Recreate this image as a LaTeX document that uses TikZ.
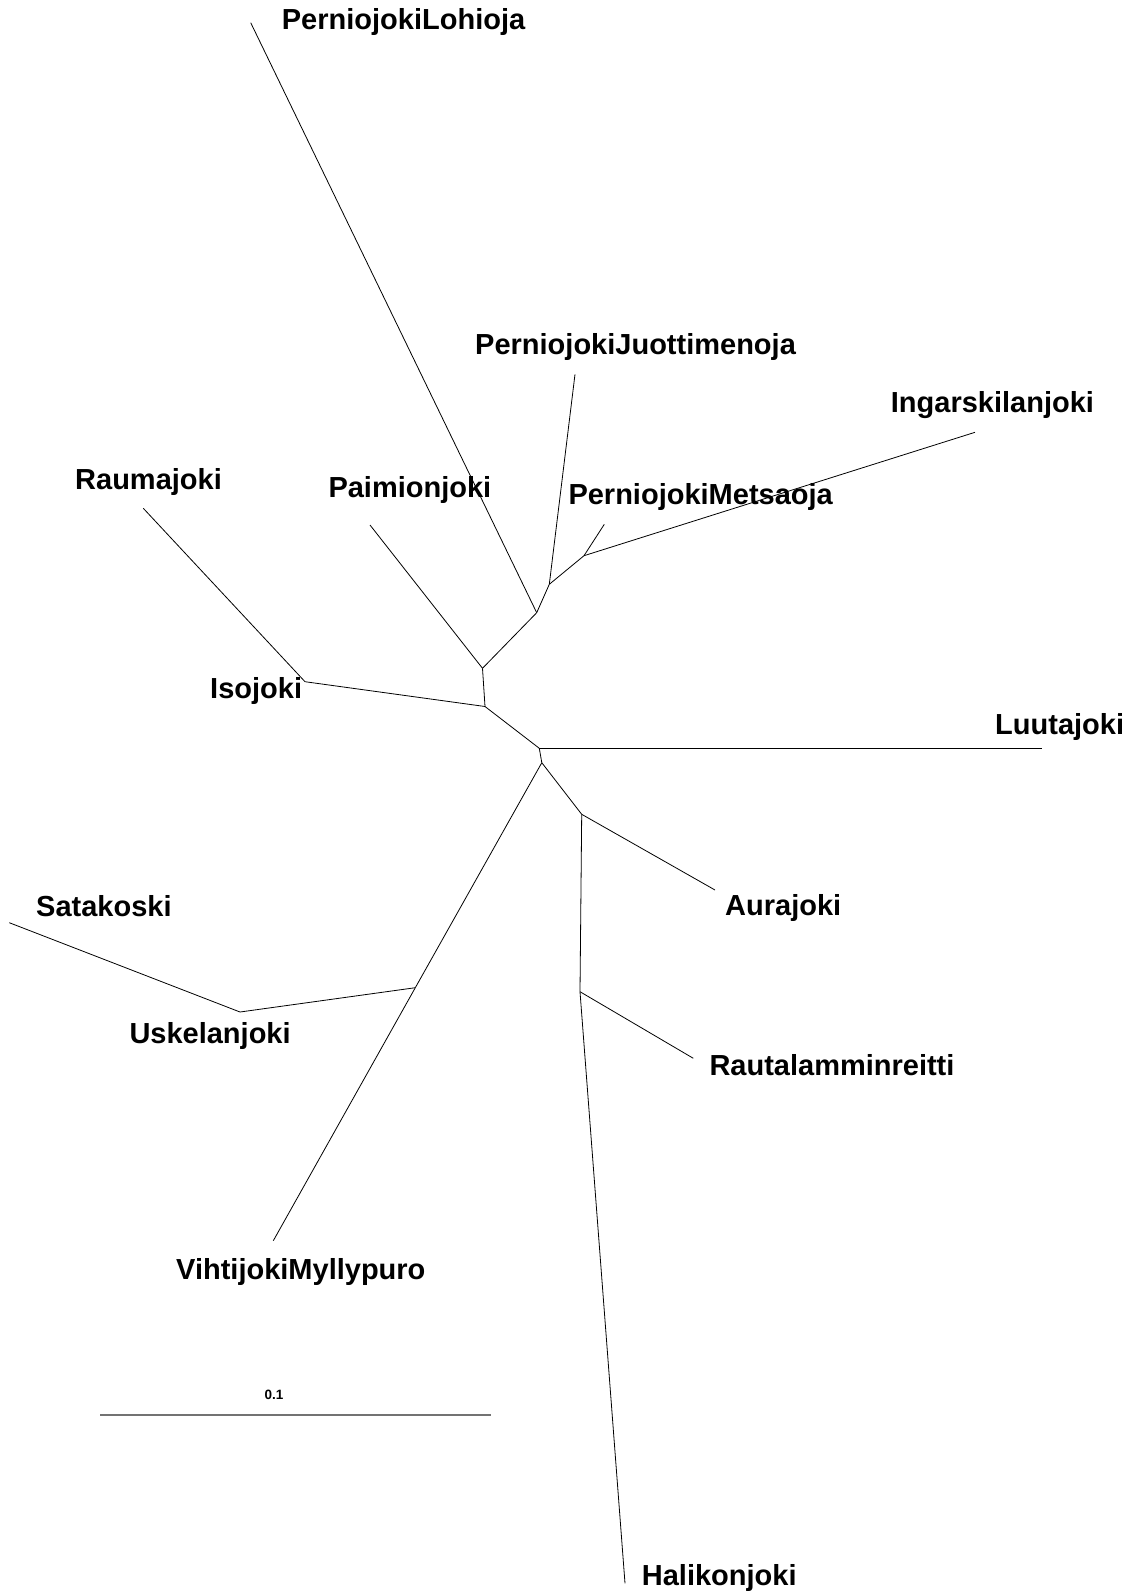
\documentclass[tikz,border=0pt]{standalone}
\usepackage{fontspec}
\setmainfont{Liberation Sans}
\begin{document}
\begin{tikzpicture}[x=1pt,y=-1pt,
  edge/.style={draw=black,line width=0.8pt},
  lbl/.style={anchor=base west,inner sep=0pt,font=\fontsize{29}{34}\selectfont\bfseries},
  scalelbl/.style={anchor=base west,inner sep=0pt,font=\fontsize{13.5}{16}\selectfont\bfseries}]
\useasboundingbox (0,0) rectangle (1136,1595);
% internal nodes
\coordinate (A) at (536.7,612.7);
\coordinate (B) at (549.3,584.3);
\coordinate (C) at (584,555.7);
\coordinate (D) at (482.5,668.3);
\coordinate (E) at (485,706.5);
\coordinate (F) at (539.3,748.3);
\coordinate (G) at (541.8,762.7);
\coordinate (H) at (581.7,814.3);
\coordinate (I) at (580,991.7);
\coordinate (K) at (415.3,987.7);
\coordinate (J) at (240,1012);
\coordinate (Iso) at (305,681.7);
% tips
\coordinate (tLoh) at (250.7,22.7);
\coordinate (tJuo) at (575,374.3);
\coordinate (tMet) at (604.3,524.3);
\coordinate (tIng) at (975,432.3);
\coordinate (tPai) at (370,525);
\coordinate (tRau) at (143.3,508.3);
\coordinate (tLuu) at (1041.7,748.3);
\coordinate (tAur) at (715,890);
\coordinate (tRtl) at (693.3,1058.3);
\coordinate (tHal) at (625,1583.3);
\coordinate (tVih) at (273.3,1240.7);
\coordinate (tSat) at (9.3,922.7);
% edges
\draw[edge] (D) -- (A);
\draw[edge] (A) -- (tLoh);
\draw[edge] (A) -- (B);
\draw[edge] (B) -- (tJuo);
\draw[edge] (B) -- (C);
\draw[edge] (C) -- (tMet);
\draw[edge] (C) -- (tIng);
\draw[edge] (D) -- (tPai);
\draw[edge] (D) -- (E);
\draw[edge] (E) -- (Iso);
\draw[edge] (Iso) -- (tRau);
\draw[edge] (E) -- (F);
\draw[edge] (F) -- (tLuu);
\draw[edge] (F) -- (G);
\draw[edge] (G) -- (K);
\draw[edge] (K) -- (tVih);
\draw[edge] (K) -- (J);
\draw[edge] (J) -- (tSat);
\draw[edge] (G) -- (H);
\draw[edge] (H) -- (tAur);
\draw[edge] (H) -- (I);
\draw[edge] (I) -- (tRtl);
\draw[edge] (I) -- (tHal);
% labels
\node[lbl] (nLoh) at (281.7,29.3) {PerniojokiLohioja};
\node[lbl] (nJuo) at (475,354.3) {PerniojokiJuottimenoja};
\node[lbl] (nMet) at (568.3,504.3) {PerniojokiMetsaoja};
\node[lbl] (nIng) at (890.7,412.7) {Ingarskilanjoki};
\node[lbl] (nRau) at (75,489.3) {Raumajoki};
\node[lbl] (nPai) at (328.3,497.7) {Paimionjoki};
\node[lbl] (nIso) at (210,698.3) {Isojoki};
\node[lbl] (nLuu) at (995,734.3) {Luutajoki};
\node[lbl] (nAur) at (725,915) {Aurajoki};
\node[lbl] (nSat) at (36,916.7) {Satakoski};
\node[lbl] (nUsk) at (129.3,1043.3) {Uskelanjoki};
\node[lbl] (nRtl) at (709.3,1075) {Rautalamminreitti};
\node[lbl] (nVih) at (176,1279) {VihtijokiMyllypuro};
\node[lbl] (nHal) at (641.7,1585) {Halikonjoki};
% scale bar
\coordinate (s1) at (100,1415);
\coordinate (s2) at (490.7,1415);
\draw[draw=black!55,line width=1.3pt] (s1) -- (s2);
\node[scalelbl] (nScale) at (264.3,1399.3) {0.1};
\end{tikzpicture}
\end{document}
